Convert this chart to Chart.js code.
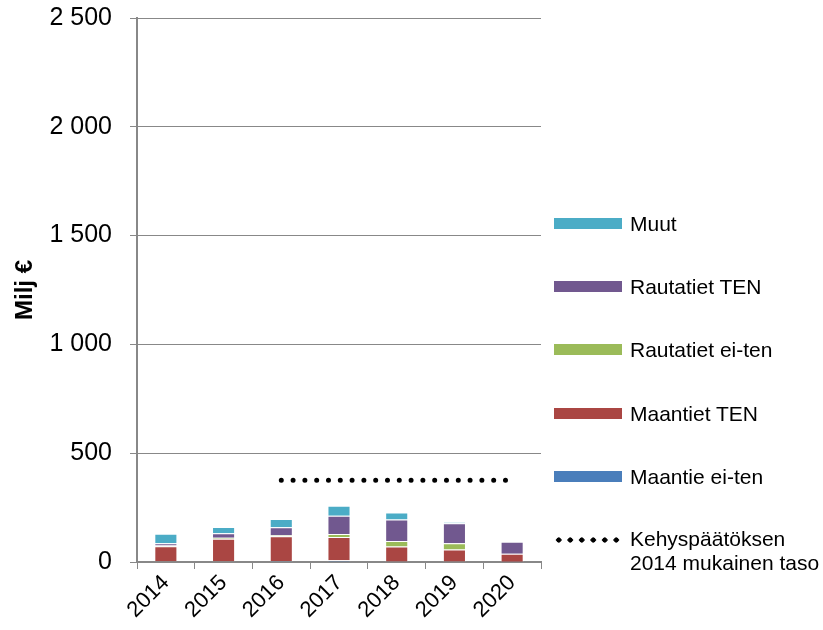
<!DOCTYPE html>
<html>
<head>
<meta charset="utf-8">
<script src="https://cdn.jsdelivr.net/npm/chart.js@4"></script>
<style>
  body { margin: 0; background: #fff; }
  #wrap { position: relative; width: 823px; height: 630px; }
  #legend { position: absolute; left: 0; top: 0; font-family: "Liberation Sans", Arial, sans-serif; font-size: 21px; color: #000; }
  .item { position: absolute; left: 554px; height: 24px; line-height: 24px; display: flex; align-items: center; white-space: nowrap; }
  .sw { width: 68px; height: 11px; margin-right: 8px; }
  .dots { width: 68px; height: 6px; margin-right: 8px; background: radial-gradient(circle, #000 2.4px, transparent 2.8px) -1px 0 / 11.5px 6px repeat-x; }
</style>
</head>
<body>
<div id="wrap">
  <canvas id="chart" width="823" height="630"></canvas>
  <div id="legend"></div>
</div>
<script>
const years = ["2014", "2015", "2016", "2017", "2018", "2019", "2020"];
const maantieEiTen = [3, 3, 5, 8, 2, 2, 1];
const maantietTen = [69, 104, 113, 107, 69, 55, 37];
const rautatietEiTen = [4, 4, 5, 14, 26, 29, 0];
const rautatietTen = [10, 21, 37, 84, 98, 92, 55];
const muut = [44, 29, 38, 46, 32, 5, 1];
const kehysTaso = [null, null, 376, 376, 376, 376, 376];
const yTicks = [0, 500, 1000, 1500, 2000, 2500];

const series = [
    { label: "Maantie ei-ten", data: maantieEiTen, color: "#4A7EBB" },
    { label: "Maantiet TEN", data: maantietTen, color: "#AA4643" },
    { label: "Rautatiet ei-ten", data: rautatietEiTen, color: "#9BBB59" },
    { label: "Rautatiet TEN", data: rautatietTen, color: "#71588F" },
    { label: "Muut", data: muut, color: "#4BACC6" }
];

const font = "'Liberation Sans', Arial, sans-serif";

const datasets = series.map(s => ({
    type: "bar",
    label: s.label,
    data: s.data,
    backgroundColor: s.color,
    borderColor: "rgba(255,255,255,0.35)",
    borderWidth: 1,
    barPercentage: 0.4,
    categoryPercentage: 1,
    stack: "a",
    order: 2
}));

datasets.push({
    type: "line",
    label: "Kehyspäätöksen 2014 mukainen taso",
    data: kehysTaso,
    borderColor: "#000",
    borderWidth: 5,
    borderDash: [0, 11.8],
    borderCapStyle: "round",
    pointRadius: 0,
    fill: false,
    order: 1
});

new Chart(document.getElementById("chart"), {
    type: "bar",
    data: { labels: years, datasets: datasets },
    options: {
        responsive: false,
        animation: false,
        layout: { autoPadding: false, padding: { left: 0, right: 282, top: 18, bottom: 0 } },
        plugins: { legend: { display: false }, tooltip: { enabled: false } },
        scales: {
            x: {
                stacked: true,
                offset: true,
                afterFit: axis => { axis.height = 68; axis.paddingLeft = 0; axis.paddingRight = 0; },
                grid: { drawOnChartArea: false, offset: true, tickLength: 7, color: "#888" },
                border: { color: "#888", width: 2 },
                ticks: { color: "#000", font: { family: font, size: 22 }, minRotation: 45, maxRotation: 45, padding: 1 }
            },
            y: {
                stacked: true,
                min: 0,
                max: 2500,
                afterFit: axis => { axis.width = 137; axis.paddingTop = 0; axis.paddingBottom = 0; },
                afterBuildTicks: axis => { axis.ticks = yTicks.map(v => ({ value: v })); },
                grid: { color: "#888", tickLength: 7 },
                border: { color: "#888", width: 2 },
                ticks: {
                    color: "#000",
                    font: { family: font, size: 25 },
                    padding: 18,
                    callback: v => String(v).replace(/\B(?=(\d{3})+(?!\d))/g, " ")
                },
                title: { display: true, text: "Milj €", color: "#000", font: { family: font, size: 24, weight: "bold" }, padding: { top: 11, bottom: 0 } }
            }
        }
    }
});

// legend on the right, top to bottom
const legend = document.getElementById("legend");
const centers = [223.5, 286.5, 349.5, 413.5, 476.5];
series.slice().reverse().forEach((s, i) => {
    const d = document.createElement("div");
    d.className = "item";
    d.style.top = (centers[i] - 12) + "px";
    d.innerHTML = `<div class="sw" style="background:${s.color}"></div><span>${s.label}</span>`;
    legend.appendChild(d);
});
const k = document.createElement("div");
k.className = "item";
k.style.top = "527px";
k.style.height = "48px";
k.style.alignItems = "flex-start";
k.innerHTML = `<div class="dots" style="margin-top:10px"></div><span>Kehyspäätöksen<br>2014 mukainen taso</span>`;
legend.appendChild(k);
</script>
</body>
</html>
